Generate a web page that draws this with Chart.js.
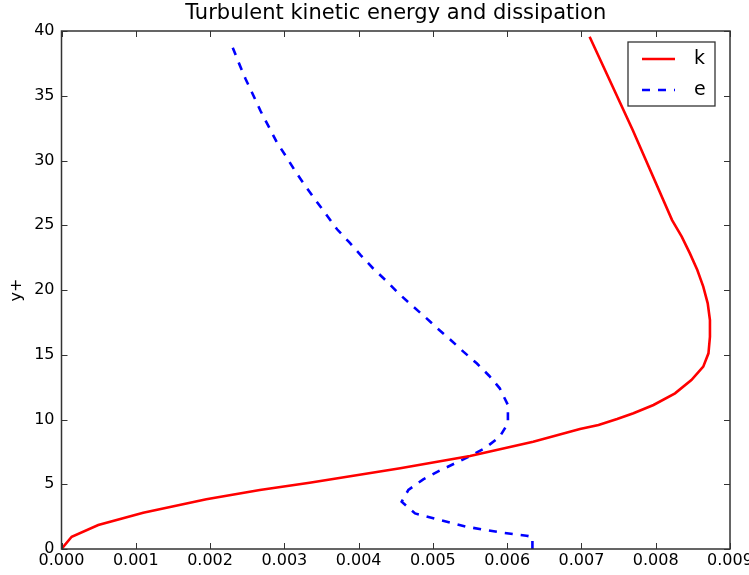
<!DOCTYPE html>
<html>
<head>
<meta charset="utf-8">
<script src="https://cdn.jsdelivr.net/npm/chart.js@4/dist/chart.umd.min.js"></script>
<style>
  html, body { margin: 0; padding: 0; background: #fff; }
  #wrap { width: 749px; height: 575px; }
</style>
</head>
<body>
<div id="wrap"><canvas id="tkeChart" width="749" height="575"></canvas></div>
<script>
// y+ positions and values
const kYPlus = [0, 0.95, 1.85, 2.8, 3.84, 4.56, 5.12, 6.23, 7.18, 8.29, 9.27, 9.58, 10.04, 10.48, 11.12, 12.02, 13.05, 14.08, 15.11, 16.39, 17.68, 18.97, 20.26, 21.54, 22.83, 24.12, 25.4, 32.35, 39.56];
const kValues = [0, 0.000137, 0.000495, 0.0011, 0.00195, 0.00267, 0.00334, 0.00456, 0.0055, 0.00635, 0.00698, 0.00723, 0.00748, 0.0077, 0.00797, 0.00826, 0.00848, 0.00864, 0.00871, 0.00873, 0.00873, 0.0087, 0.00864, 0.00856, 0.00846, 0.00835, 0.00822, 0.00769, 0.00711];

const eYPlus = [0, 0.93, 1.03, 1.29, 1.72, 2.24, 2.75, 3.65, 4.56, 5.38, 6.05, 6.62, 7.18, 7.78, 8.67, 9.7, 11.12, 12.41, 13.36, 14.34, 15.24, 16.14, 17.04, 17.94, 18.84, 19.79, 20.77, 21.7, 22.68, 23.71, 24.69, 26.87, 27.98, 29.06, 30.25, 31.4, 32.61, 33.82, 35.06, 36.27, 37.5, 38.79, 39.2];
const eValues = [0.00634, 0.00634, 0.00626, 0.0059, 0.00545, 0.00509, 0.00476, 0.00458, 0.00467, 0.00487, 0.00509, 0.0053, 0.0055, 0.0057, 0.0059, 0.00601, 0.00601, 0.0059, 0.00576, 0.00559, 0.00541, 0.00524, 0.00506, 0.00489, 0.00471, 0.00453, 0.00436, 0.00419, 0.00403, 0.00387, 0.00371, 0.00343, 0.00329, 0.00316, 0.00303, 0.0029, 0.00279, 0.00268, 0.00258, 0.00248, 0.00239, 0.0023, 0.00227];

const xTicks = [0, 0.001, 0.002, 0.003, 0.004, 0.005, 0.006, 0.007, 0.008, 0.009];
const yTicks = [0, 5, 10, 15, 20, 25, 30, 35, 40];

const FONT = "'DejaVu Sans', sans-serif";

function toPoints(xs, ys) {
  return xs.map((x, i) => ({ x: x, y: ys[i] }));
}

// box around the axes, inward ticks on all four sides, and the boxed legend
const framePlugin = {
  id: "frame",
  afterDraw(chart) {
    const { ctx, chartArea: a, scales } = chart;
    const tl = 6;
    ctx.save();
    ctx.strokeStyle = "#333";
    ctx.lineWidth = 1;
    scales.x.ticks.forEach((t) => {
      const px = Math.round(scales.x.getPixelForValue(t.value)) + 0.5;
      ctx.beginPath();
      ctx.moveTo(px, a.bottom); ctx.lineTo(px, a.bottom - tl);
      ctx.moveTo(px, a.top); ctx.lineTo(px, a.top + tl);
      ctx.stroke();
    });
    scales.y.ticks.forEach((t) => {
      const py = Math.round(scales.y.getPixelForValue(t.value)) + 0.5;
      ctx.beginPath();
      ctx.moveTo(a.left, py); ctx.lineTo(a.left + tl, py);
      ctx.moveTo(a.right, py); ctx.lineTo(a.right - tl, py);
      ctx.stroke();
    });
    ctx.lineWidth = 1.5;
    ctx.strokeStyle = "#333";
    ctx.strokeRect(a.left, a.top, a.right - a.left, a.bottom - a.top);

    // legend
    const bw = 87, bh = 64;
    const bx = a.right - 15 - bw, by = a.top + 11;
    ctx.fillStyle = "#fff";
    ctx.fillRect(bx, by, bw, bh);
    ctx.lineWidth = 1.3;
    ctx.strokeStyle = "#333";
    ctx.strokeRect(bx, by, bw, bh);
    chart.data.datasets.forEach((ds, i) => {
      const ly = by + 17 + i * 31;
      ctx.beginPath();
      ctx.setLineDash(ds.borderDash || []);
      ctx.strokeStyle = ds.borderColor;
      ctx.lineWidth = ds.borderWidth;
      ctx.moveTo(bx + 14, ly);
      ctx.lineTo(bx + 47, ly);
      ctx.stroke();
      ctx.setLineDash([]);
      ctx.fillStyle = "#000";
      ctx.font = "19px " + FONT;
      ctx.textBaseline = "middle";
      ctx.textAlign = "left";
      ctx.fillText(ds.label, bx + 66, ly);
    });
    ctx.restore();
  },
};

new Chart(document.getElementById("tkeChart").getContext("2d"), {
  type: "line",
  data: {
    datasets: [
      {
        label: "k",
        data: toPoints(kValues, kYPlus),
        borderColor: "#ff0000",
        borderWidth: 2.6,
        pointRadius: 0,
        tension: 0,
        fill: false,
      },
      {
        label: "e",
        data: toPoints(eValues, eYPlus),
        borderColor: "#0000ff",
        borderWidth: 2.6,
        borderDash: [8, 8],
        pointRadius: 0,
        tension: 0,
        fill: false,
      },
    ],
  },
  options: {
    responsive: false,
    devicePixelRatio: 1,
    animation: false,
    layout: { padding: { left: 0, right: 19, top: 0, bottom: 0 } },
    plugins: {
      legend: { display: false },
      tooltip: { enabled: false },
      title: {
        display: true,
        text: "Turbulent kinetic energy and dissipation",
        fullSize: false,
        color: "#000",
        font: { family: FONT, size: 21, weight: "normal" },
        padding: { top: 1, bottom: 4.8 },
      },
    },
    scales: {
      x: {
        type: "linear",
        min: 0,
        max: 0.009,
        grid: { display: false, drawTicks: false },
        border: { display: false },
        afterBuildTicks: (s) => { s.ticks = xTicks.map((v) => ({ value: v })); },
        afterFit: (s) => { s.height = 26; s.paddingLeft = 0; s.paddingRight = 0; },
        ticks: {
          padding: 2,
          maxRotation: 0,
          autoSkip: false,
          color: "#000",
          font: { family: FONT, size: 16 },
          callback: (v) => Number(v).toFixed(3),
        },
      },
      y: {
        type: "linear",
        min: 0,
        max: 40,
        grid: { display: false, drawTicks: false },
        border: { display: false },
        afterBuildTicks: (s) => { s.ticks = yTicks.map((v) => ({ value: v })); },
        afterFit: (s) => { s.width = 61.5; s.paddingTop = 0; s.paddingBottom = 0; },
        title: {
          display: true,
          text: "y+",
          color: "#000",
          font: { family: FONT, size: 16 },
          padding: { top: 7, bottom: 0 },
        },
        ticks: {
          padding: 7,
          autoSkip: false,
          color: "#000",
          font: { family: FONT, size: 16 },
        },
      },
    },
  },
  plugins: [framePlugin],
});
</script>
</body>
</html>
